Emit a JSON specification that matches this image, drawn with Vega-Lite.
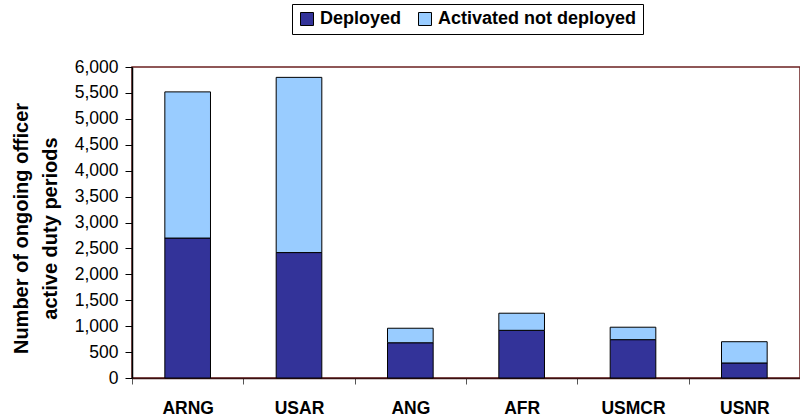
{
  "$schema": "https://vega.github.io/schema/vega-lite/v6.json",
  "autosize": "none",
  "width": 668,
  "height": 311,
  "padding": {"left": 132, "top": 67, "right": 0, "bottom": 40},
  "background": "white",
  "config": {
    "font": "Liberation Sans",
    "view": {"stroke": "#6b2020", "strokeWidth": 1.5}
  },
  "data": {
    "values": [
      {"component": "ARNG", "status": "Deployed", "count": 2700, "ord": 1},
      {"component": "ARNG", "status": "Activated not deployed", "count": 2820, "ord": 2},
      {"component": "USAR", "status": "Deployed", "count": 2420, "ord": 1},
      {"component": "USAR", "status": "Activated not deployed", "count": 3380, "ord": 2},
      {"component": "ANG", "status": "Deployed", "count": 680, "ord": 1},
      {"component": "ANG", "status": "Activated not deployed", "count": 280, "ord": 2},
      {"component": "AFR", "status": "Deployed", "count": 920, "ord": 1},
      {"component": "AFR", "status": "Activated not deployed", "count": 330, "ord": 2},
      {"component": "USMCR", "status": "Deployed", "count": 740, "ord": 1},
      {"component": "USMCR", "status": "Activated not deployed", "count": 240, "ord": 2},
      {"component": "USNR", "status": "Deployed", "count": 290, "ord": 1},
      {"component": "USNR", "status": "Activated not deployed", "count": 410, "ord": 2}
    ]
  },
  "mark": {"type": "bar", "width": {"band": 0.41}, "stroke": "#000000", "strokeWidth": 1},
  "encoding": {
    "x": {
      "field": "component",
      "type": "nominal",
      "sort": ["ARNG", "USAR", "ANG", "AFR", "USMCR", "USNR"],
      "scale": {"paddingInner": 0, "paddingOuter": 0},
      "axis": {
        "title": null,
        "labelAngle": 0,
        "labelFont": "Liberation Sans",
        "labelFontSize": 17.5,
        "labelFontWeight": "bold",
        "labelColor": "#000000",
        "labelPadding": 15,
        "tickBand": "extent",
        "tickSize": 6,
        "tickColor": "#555555",
        "domainColor": "#3a1010",
        "domainWidth": 1.5
      }
    },
    "y": {
      "field": "count",
      "type": "quantitative",
      "stack": "zero",
      "scale": {"domain": [0, 6000], "nice": false},
      "axis": {
        "values": [0, 500, 1000, 1500, 2000, 2500, 3000, 3500, 4000, 4500, 5000, 5500, 6000],
        "format": ",d",
        "grid": false,
        "labelFont": "Liberation Sans",
        "labelFontSize": 17.5,
        "labelColor": "#000000",
        "labelPadding": 7,
        "tickSize": 7,
        "tickColor": "#000000",
        "domainColor": "#000000",
        "domainWidth": 1.5,
        "title": ["Number of ongoing officer", "active duty periods"],
        "titleFont": "Liberation Sans",
        "titleFontSize": 20,
        "titleFontWeight": "bold",
        "titleColor": "#000000",
        "titleAngle": -90,
        "titleAlign": "center",
        "titleBaseline": "alphabetic",
        "titleX": -104.5,
        "titleY": 161,
        "titleLineHeight": 29
      }
    },
    "color": {
      "field": "status",
      "type": "nominal",
      "scale": {"domain": ["Deployed", "Activated not deployed"], "range": ["#333399", "#99CCFF"]},
      "legend": {
        "title": null,
        "orient": "none",
        "direction": "horizontal",
        "legendX": 160,
        "legendY": -63,
        "symbolType": "square",
        "symbolSize": 169,
        "symbolStrokeColor": "#000000",
        "symbolStrokeWidth": 1,
        "labelFont": "Liberation Sans",
        "labelFontSize": 18,
        "labelFontWeight": "bold",
        "labelColor": "#000000",
        "labelOffset": 4,
        "labelLimit": 400,
        "columnPadding": 14,
        "strokeColor": "#000000",
        "padding": 6,
        "fillColor": "white"
      }
    },
    "order": {"field": "ord", "type": "quantitative"}
  }
}
